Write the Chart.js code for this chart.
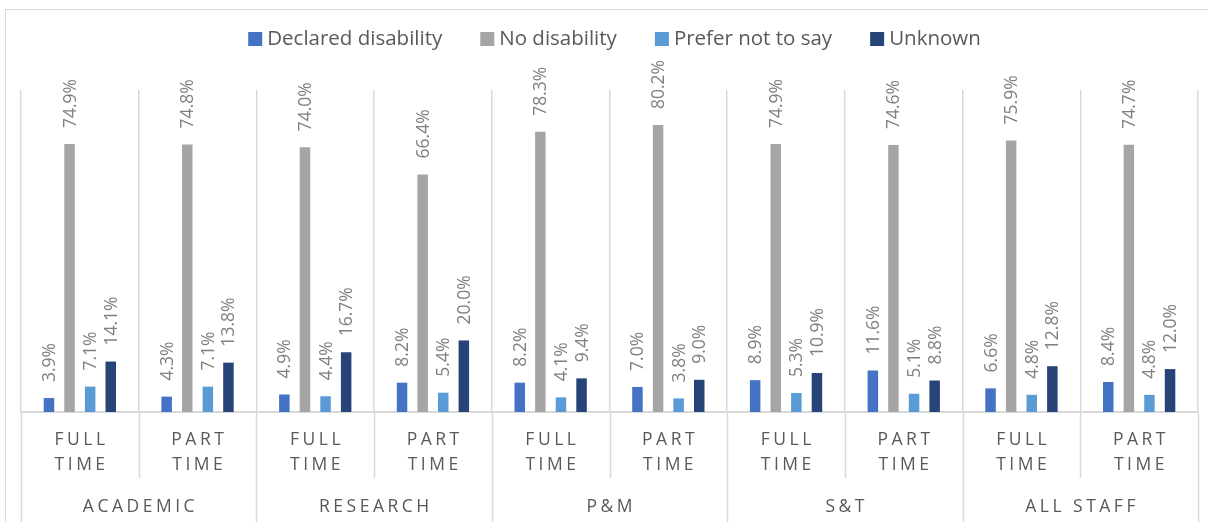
<!DOCTYPE html>
<html>
<head>
<meta charset="utf-8">
<script src="https://cdn.jsdelivr.net/npm/chart.js@4/dist/chart.umd.min.js"></script>
<style>
  html, body { margin: 0; padding: 0; background: #ffffff; }
  #wrap { width: 1208px; height: 522px; position: relative; }
</style>
</head>
<body>
<div id="wrap"><canvas id="chart" width="1208" height="522"></canvas></div>
<script>
// Staff disability status by role and working pattern (% of staff)
const groups = ['ACADEMIC', 'RESEARCH', 'P&M', 'S&T', 'ALL STAFF'];
const patterns = [['FULL', 'TIME'], ['PART', 'TIME']];
const categories = groups.flatMap(g => patterns.map(p => g + ' ' + p.join(' ')));

const declaredDisability = [3.9, 4.3, 4.9, 8.2, 8.2, 7.0, 8.9, 11.6, 6.6, 8.4];
const noDisability       = [74.9, 74.8, 74.0, 66.4, 78.3, 80.2, 74.9, 74.6, 75.9, 74.7];
const preferNotToSay     = [7.1, 7.1, 4.4, 5.4, 4.1, 3.8, 5.3, 5.1, 4.8, 4.8];
const unknown            = [14.1, 13.8, 16.7, 20.0, 9.4, 9.0, 10.9, 8.8, 12.8, 12.0];

const FONT = "'Open Sans', 'Noto Sans', sans-serif";
const GRID = '#d9d9d9';

// Rotated value labels above each bar
const valueLabels = {
  id: 'valueLabels',
  afterDatasetsDraw(chart) {
    const ctx = chart.ctx;
    ctx.save();
    ctx.font = '17.5px ' + FONT;
    ctx.fillStyle = '#7f7f7f';
    ctx.textAlign = 'left';
    ctx.textBaseline = 'middle';
    chart.data.datasets.forEach((ds, di) => {
      chart.getDatasetMeta(di).data.forEach((bar, i) => {
        ctx.save();
        ctx.translate(bar.x + 1, bar.y - 16);
        ctx.rotate(-Math.PI / 2);
        ctx.fillText(ds.data[i].toFixed(1) + '%', 0, 0);
        ctx.restore();
      });
    });
    ctx.restore();
  }
};

// Two-level category axis, separators, legend and frame
const frameAndAxis = {
  id: 'frameAndAxis',
  afterDraw(chart) {
    const ctx = chart.ctx;
    const x = chart.scales.x;
    const area = chart.chartArea;
    const n = categories.length;
    const step = (area.right - area.left) / n;
    ctx.save();

    // outer frame
    ctx.strokeStyle = GRID;
    ctx.lineWidth = 1;
    ctx.strokeRect(5.5, 9.5, 1220, 530);

    // separators below the baseline
    ctx.strokeStyle = GRID;
    ctx.lineWidth = 1.5;
    for (let k = 0; k <= n; k++) {
      const px = Math.round(area.left + k * step) + 0.5;
      ctx.beginPath();
      ctx.moveTo(px, area.bottom);
      ctx.lineTo(px, k % 2 === 0 ? 522 : 478);
      ctx.stroke();
    }

    // category labels (letter-spaced)
    const sp = 3.5;
    ctx.fillStyle = '#595959';
    ctx.textAlign = 'center';
    ctx.textBaseline = 'middle';
    ctx.letterSpacing = sp + 'px';
    ctx.font = '17.5px ' + FONT;
    for (let i = 0; i < n; i++) {
      const cx = x.getPixelForValue(i) + sp / 2;
      const lines = patterns[i % 2];
      ctx.fillText(lines[0], cx, 440);
      ctx.fillText(lines[1], cx, 465);
    }
    groups.forEach((g, gi) => {
      const cx = (x.getPixelForValue(gi * 2) + x.getPixelForValue(gi * 2 + 1)) / 2 + sp / 2;
      ctx.fillText(g, cx, 507);
    });
    ctx.letterSpacing = '0px';

    // legend
    ctx.font = '20.5px ' + FONT;
    ctx.textAlign = 'left';
    const box = 14, gapBox = 5, gapItem = 38;
    const items = chart.data.datasets.map(d => ({ label: d.label, color: d.backgroundColor, w: ctx.measureText(d.label).width }));
    const total = items.reduce((s, it) => s + box + gapBox + it.w, 0) + gapItem * (items.length - 1);
    let lx = 248 + (733 - total) / 2;
    const ly = 39;
    items.forEach(it => {
      ctx.fillStyle = it.color;
      ctx.fillRect(lx, ly - box / 2, box, box);
      ctx.fillStyle = '#595959';
      ctx.fillText(it.label, lx + box + gapBox, ly);
      lx += box + gapBox + it.w + gapItem;
    });
    ctx.restore();
  }
};

new Chart(document.getElementById('chart'), {
  type: 'bar',
  data: {
    labels: categories,
    datasets: [
      { label: 'Declared disability', data: declaredDisability, backgroundColor: '#4472c4' },
      { label: 'No disability', data: noDisability, backgroundColor: '#a5a5a5' },
      { label: 'Prefer not to say', data: preferNotToSay, backgroundColor: '#5b9bd5' },
      { label: 'Unknown', data: unknown, backgroundColor: '#264478' }
    ]
  },
  options: {
    responsive: false,
    animation: false,
    devicePixelRatio: 1,
    layout: { padding: { top: 90, left: 21, right: 10, bottom: 110 } },
    datasets: { bar: { categoryPercentage: 0.7, barPercentage: 0.51 } },
    plugins: { legend: { display: false }, tooltip: { enabled: false } },
    scales: {
      x: {
        offset: true,
        ticks: { display: false },
        grid: { display: true, offset: true, color: GRID, lineWidth: 1.5, drawTicks: false },
        border: { display: true, color: GRID, width: 2 }
      },
      y: {
        display: false,
        min: 0,
        max: 90
      }
    }
  },
  plugins: [valueLabels, frameAndAxis]
});
</script>
</body>
</html>
